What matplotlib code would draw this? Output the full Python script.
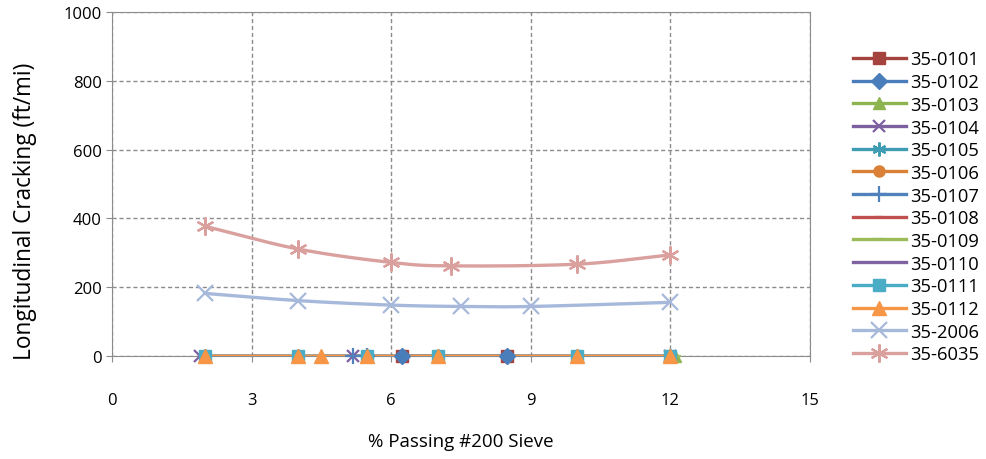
import numpy as np
import matplotlib
matplotlib.use("Agg")
import matplotlib.pyplot as plt
from matplotlib.lines import Line2D

plt.rcParams['font.family'] = ['Open Sans', 'DejaVu Sans']

series_names = ['35-0101', '35-0102', '35-0103', '35-0104', '35-0105', '35-0106', '35-0107',
                '35-0108', '35-0109', '35-0110', '35-0111', '35-0112', '35-2006', '35-6035']

# % passing #200 sieve (x) and longitudinal cracking (y) per section
x_0101 = [6.24, 8.49]
y_0101 = [0, 0]
x_0102 = [6.24, 8.49]
y_0102 = [0, 0]
x_0103 = [2.0, 4.0, 7.0, 10.0, 12.1]
y_0103 = [0, 0, 0, 0, 0]
x_0104 = [1.9, 5.18, 12.0]
y_0104 = [0, 0, 0]
x_0105 = [2.0, 4.0, 5.49, 7.0, 10.0, 12.0]
y_0105 = [0, 0, 0, 0, 0, 0]
x_0106 = [2.0, 4.0, 5.49, 7.0, 10.0, 12.0]
y_0106 = [0, 0, 0, 0, 0, 0]
x_0107 = [5.18, 5.49]
y_0107 = [0, 0]
x_0108 = [2.0, 12.0]
y_0108 = [0, 0]
x_0109 = [2.0, 12.1]
y_0109 = [0, 0]
x_0110 = [1.9, 12.0]
y_0110 = [0, 0]
x_0111 = [2.0, 4.0, 5.49, 7.0, 10.0, 12.0]
y_0111 = [0, 0, 0, 0, 0, 0]
x_0112 = [2.0, 4.0, 4.49, 5.49, 7.0, 10.0, 12.0]
y_0112 = [0, 0, 0, 0, 0, 0, 0]
x_2006 = [2.0, 4.0, 6.0, 7.5, 9.0, 12.0]
y_2006 = [182, 161, 148, 144, 144, 156]
x_6035 = [2.0, 4.0, 6.0, 7.28, 10.0, 12.0]
y_6035 = [377, 311, 272, 262, 267, 294]

xs = [x_0101, x_0102, x_0103, x_0104, x_0105, x_0106, x_0107,
      x_0108, x_0109, x_0110, x_0111, x_0112, x_2006, x_6035]
ys = [y_0101, y_0102, y_0103, y_0104, y_0105, y_0106, y_0107,
      y_0108, y_0109, y_0110, y_0111, y_0112, y_2006, y_6035]

colors = ['#A5433F', '#4A7EBB', '#8DB44E', '#7D60A0', '#3E9DB3', '#DA8137', '#4F81BD',
          '#C0504D', '#9BBB59', '#8064A2', '#4BACC6', '#F79646', '#A7B9DB', '#D9A09E']
markers = ['s', 'D', '^', 'x', (6, 2, 0), 'o', '+', '_', '_', None, 's', '^', 'x', (6, 2, 0)]
msizes = [8, 8, 9, 9, 10, 8, 11, 6, 9, 0, 8, 10, 12, 13]


def smooth(x, y, n=30):
    """Catmull-Rom style rendering of a smoothed line through the data points."""
    x = np.asarray(x, float)
    y = np.asarray(y, float)
    if len(x) < 3:
        return x, y
    px = np.concatenate([[2 * x[0] - x[1]], x, [2 * x[-1] - x[-2]]])
    py = np.concatenate([[2 * y[0] - y[1]], y, [2 * y[-1] - y[-2]]])
    ox, oy = [], []
    t = np.linspace(0, 1, n)
    for i in range(1, len(px) - 2):
        p0, p1, p2, p3 = [np.array([px[j], py[j]]) for j in (i - 1, i, i + 1, i + 2)]
        for tt in t:
            pt = 0.5 * ((2 * p1) + (-p0 + p2) * tt + (2 * p0 - 5 * p1 + 4 * p2 - p3) * tt ** 2
                        + (-p0 + 3 * p1 - 3 * p2 + p3) * tt ** 3)
            ox.append(pt[0])
            oy.append(pt[1])
    return np.array(ox), np.array(oy)


fig = plt.figure(figsize=(9.86, 4.6), dpi=100)
ax = fig.add_axes([0.1136, 0.2239, 0.7079, 0.7478])

handles = []
for i, name in enumerate(series_names):
    c = colors[i]
    sx, sy = smooth(xs[i], ys[i])
    mew = 1.6 if markers[i] in ('x', '+', '_') or isinstance(markers[i], tuple) else 1
    ax.plot(sx, sy, color=c, lw=2.4, solid_capstyle='round', zorder=3 + i * 0.01)
    if markers[i] is not None:
        ax.plot(xs[i], ys[i], ls='none', marker=markers[i], ms=msizes[i], color=c,
                mec=c, mew=mew, zorder=4 + i * 0.01, clip_on=False)
    handles.append(Line2D([], [], color=c, lw=2.4, marker=markers[i],
                          ms=msizes[i] if markers[i] is not None else 0, mec=c, mew=mew))

ax.set_xlim(0, 15)
ax.set_ylim(0, 1000)
ax.set_xticks([0, 3, 6, 9, 12, 15])
ax.set_yticks([0, 200, 400, 600, 800, 1000])
ax.grid(True, color='#8C8C8C', ls=(0, (3, 2)), lw=1)
ax.set_axisbelow(True)
for s in ax.spines.values():
    s.set_color('#8C8C8C')
ax.tick_params(axis='both', labelsize=12, color='#8C8C8C', length=4, direction='out')
ax.tick_params(axis='x', pad=22)
ax.set_xlabel('% Passing #200 Sieve', fontsize=13.5, labelpad=17)
fig.text(0.025, 0.541, 'Longitudinal Cracking (ft/mi)', rotation=90, fontsize=16.3,
         ha='center', va='center')

fig.legend(handles, series_names, loc='upper left', bbox_to_anchor=(0.858, 0.904),
           frameon=False, fontsize=13.2, handlelength=2.85, handletextpad=0.25,
           labelspacing=0.255, borderaxespad=0)

fig.savefig('out.png', dpi=100)
